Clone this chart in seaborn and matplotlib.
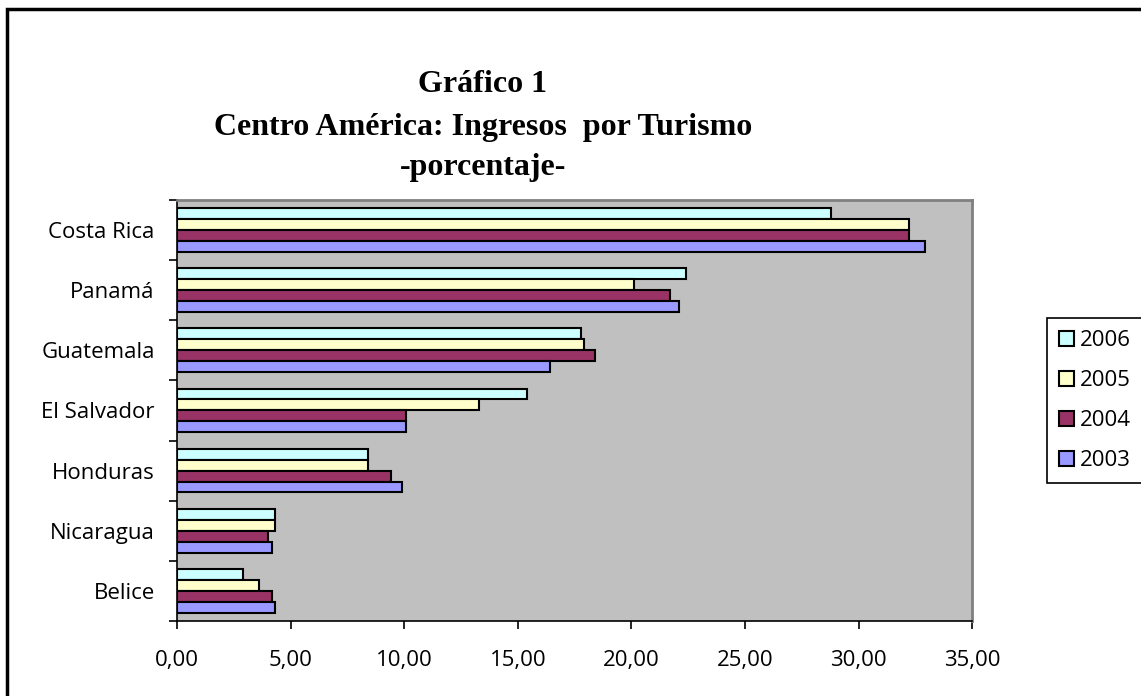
import numpy as np
import pandas as pd
import matplotlib.pyplot as plt
import seaborn as sns
from matplotlib.patches import Rectangle
from matplotlib.ticker import FuncFormatter, FixedLocator, MultipleLocator

countries = ['Costa Rica', 'Panamá', 'Guatemala', 'El Salvador', 'Honduras', 'Nicaragua', 'Belice']
years = ['2006', '2005', '2004', '2003']
v2006 = [28.8, 22.4, 17.8, 15.4, 8.4, 4.3, 2.9]
v2005 = [32.2, 20.1, 17.9, 13.3, 8.4, 4.3, 3.6]
v2004 = [32.2, 21.7, 18.4, 10.1, 9.4, 4.0, 4.2]
v2003 = [32.9, 22.1, 16.4, 10.1, 9.9, 4.2, 4.3]
colors = ['#CCFFFF', '#FFFFCC', '#993366', '#9999FF']

df = pd.DataFrame({
    'pais': countries * 4,
    'anio': np.repeat(years, len(countries)),
    'valor': v2006 + v2005 + v2004 + v2003,
})

sns.set_style('ticks')
plt.rcParams['font.family'] = ['Open Sans', 'DejaVu Sans']
plt.rcParams['text.color'] = 'black'
plt.rcParams['xtick.color'] = 'black'
plt.rcParams['ytick.color'] = 'black'

fig = plt.figure(figsize=(11.41, 6.96), dpi=100)
ax = fig.add_axes([0.1551, 0.1078, 0.697, 0.605])

sns.barplot(data=df, x='valor', y='pais', hue='anio', hue_order=years, order=countries,
            palette=colors, orient='h', width=0.727, edgecolor='black', linewidth=1.5,
            saturation=1, errorbar=None, ax=ax)

ax.set_facecolor('#C0C0C0')
ax.set_xlim(0, 35)
ax.set_ylim(6.5, -0.5)
ax.set_xlabel('')
ax.set_ylabel('')
ax.xaxis.set_major_locator(MultipleLocator(5))
ax.xaxis.set_major_formatter(FuncFormatter(lambda v, p: f'{v:.2f}'.replace('.', ',')))
ax.yaxis.set_minor_locator(FixedLocator(np.arange(-0.5, 7.5, 1)))
ax.tick_params(axis='y', which='major', length=0, pad=16, labelsize=16)
ax.tick_params(axis='y', which='minor', length=6, width=1.2, direction='out', left=True)
ax.tick_params(axis='x', which='major', length=6, width=1.2, direction='out', pad=15, labelsize=16)

for s in ['left', 'bottom']:
    ax.spines[s].set_color('black')
    ax.spines[s].set_linewidth(1.2)
for s in ['top', 'right']:
    ax.spines[s].set_visible(True)
    ax.spines[s].set_color('#808080')
    ax.spines[s].set_linewidth(2)

# legend
handles, labels = ax.get_legend_handles_labels()
ax.legend_.remove()
leg = fig.legend(handles, labels, loc='upper left', bbox_to_anchor=(1047 / 1141, 1 - 318 / 696),
                 frameon=True, fancybox=False, edgecolor='black', framealpha=1,
                 handlelength=0.65, handleheight=0.65, labelspacing=0.85, fontsize=16,
                 borderpad=0.55, handletextpad=0.3, borderaxespad=0)
leg.get_frame().set_linewidth(1.2)

# title
tfont = dict(ha='center', va='center', family='Liberation Serif', fontweight='bold',
             fontsize=23, color='black')
fig.text(0.423, 1 - 84 / 696, 'Gráfico 1', **tfont)
fig.text(0.423, 1 - 127 / 696, 'Centro América: Ingresos  por Turismo', **tfont)
fig.text(0.423, 1 - 168 / 696, '-porcentaje-', **tfont)

# outer border
fig.add_artist(Rectangle((7 / 1141, -0.05), 1.1, 1 - 9 / 696 + 0.05, transform=fig.transFigure,
                         fill=False, lw=2.5, edgecolor='black'))

fig.savefig('out.png', dpi=100)
